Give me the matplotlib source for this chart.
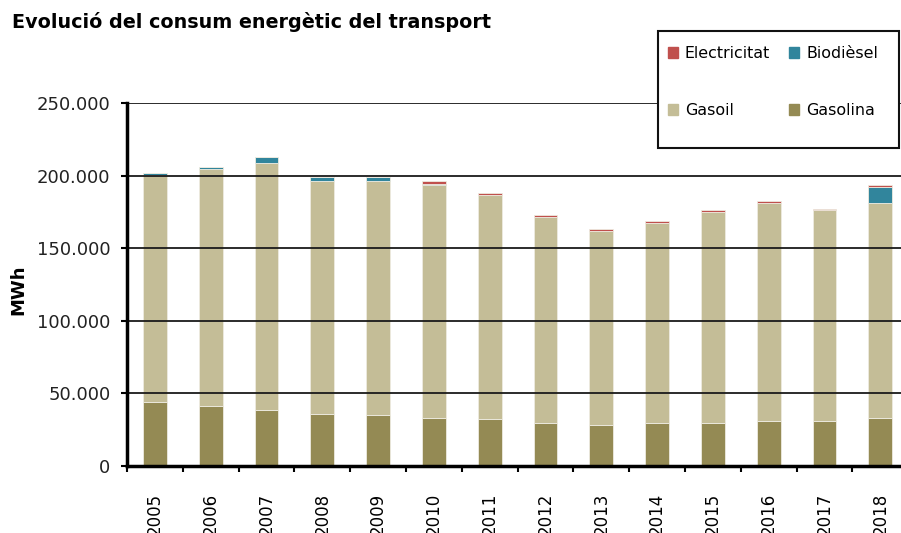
import numpy as np
import matplotlib
matplotlib.use('Agg')
import matplotlib.pyplot as plt
from matplotlib.patches import Patch, Rectangle
from matplotlib.ticker import FuncFormatter, FixedLocator

years = ['2005', '2006', '2007', '2008', '2009', '2010', '2011',
         '2012', '2013', '2014', '2015', '2016', '2017', '2018']
gasolina = [44000, 41500, 38800, 36000, 34900, 33300, 32100,
            29400, 28200, 29400, 29400, 30800, 30800, 33300]
gasoil = [156200, 162800, 169700, 160500, 161600, 160200, 154500,
          142300, 133700, 138000, 145500, 150500, 145300, 147800]
biodiesel = [1400, 1400, 4100, 2500, 2500, 1000, 200,
             0, 0, 0, 0, 0, 0, 11000]
electricitat = [0, 0, 0, 0, 0, 1600, 1400,
                1200, 1300, 1300, 1200, 1200, 1200, 1400]

colors = {'Gasolina': '#948A54', 'Gasoil': '#C4BD97',
          'Biodièsel': '#31859C', 'Electricitat': '#C0504D'}

W, H = 901, 533
fig = plt.figure(figsize=(W / 100, H / 100), dpi=100)
fig.patch.set_facecolor('white')

# plot area in pixels: left 127, bottom 466, 55.8 px per category
left, bottom, top = 127, 466, 103
ax = fig.add_axes([left / W, (H - bottom) / H, 14 * 55.8 / W, (bottom - top) / H])

x = np.arange(len(years))
width = 0.43
series = [('Gasolina', gasolina), ('Gasoil', gasoil),
          ('Biodièsel', biodiesel), ('Electricitat', electricitat)]
base = np.zeros(len(years))
for name, vals in series:
    vals = np.array(vals, dtype=float)
    ax.bar(x, vals, width=width, bottom=base, color=colors[name],
           edgecolor='#EEEBE0', linewidth=0.6, zorder=2)
    base += vals

ax.set_xlim(-0.5, len(years) - 0.5)
ax.set_ylim(0, 250000)
ax.set_yticks(np.arange(0, 250001, 50000))
ax.yaxis.set_major_formatter(FuncFormatter(lambda v, p: f'{int(v):,}'.replace(',', '.')))
ax.grid(axis='y', color='#1a1a1a', linewidth=1.3, zorder=3)
ax.set_axisbelow(False)

for s in ['top', 'right']:
    ax.spines[s].set_visible(False)
ax.spines['left'].set_linewidth(2.5)
ax.spines['bottom'].set_linewidth(2.5)
ax.spines['left'].set_zorder(4)
ax.spines['bottom'].set_zorder(4)

ax.set_xticks(x)
ax.set_xticklabels(years, rotation=90, fontsize=12, family='DejaVu Sans')
ax.tick_params(axis='x', which='major', length=0, pad=19)
ax.xaxis.set_minor_locator(FixedLocator(np.arange(-0.5, len(years), 1)))
ax.tick_params(axis='x', which='minor', length=4, width=1.5, direction='out')
ax.tick_params(axis='y', length=4, width=1.5, direction='out', pad=8,
               labelsize=13, labelcolor='#222222')

fig.text(12 / W, 1 - 22 / H, 'Evolució del consum energètic del transport',
         fontsize=13.8, fontweight='bold', family='DejaVu Sans', va='center', ha='left')
fig.text(18 / W, 1 - 290 / H, 'MWh', rotation=90, fontsize=13, fontweight='bold',
         va='center', ha='center')

# legend box, placed in figure coords but drawn inside the axes so it hides the gridline
box = Rectangle((658 / W, 1 - 148 / H), (899 - 658) / W, (148 - 31) / H,
                transform=fig.transFigure, facecolor='white',
                edgecolor='#111111', linewidth=1.5, zorder=10, clip_on=False)
ax.add_patch(box)
handles = [Patch(color=colors[n], label=n) for n in ['Electricitat', 'Gasoil', 'Biodièsel', 'Gasolina']]
leg = ax.legend(handles=handles, ncol=2, loc='upper left',
                bbox_to_anchor=(668 / W, 1 - 46 / H), bbox_transform=fig.transFigure,
                frameon=False, fontsize=11.4, handlelength=0.62, handleheight=0.62,
                handletextpad=0.45, columnspacing=1.2, labelspacing=2.65,
                borderpad=0, borderaxespad=0)
leg.set_zorder(11)

fig.savefig('out.png', dpi=100)
